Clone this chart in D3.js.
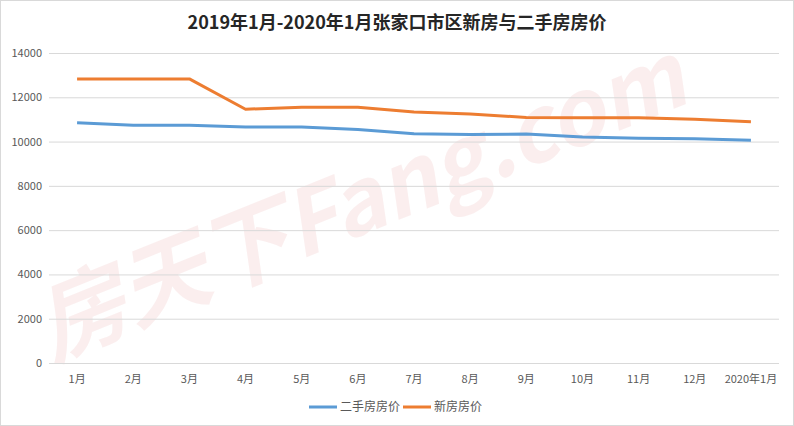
<!DOCTYPE html>
<html><head><meta charset="utf-8">
<script src="https://cdn.jsdelivr.net/npm/d3@7/dist/d3.min.js"></script>
<style>body{margin:0;background:#fff;}svg{display:block;}</style>
</head><body>
<svg id="c" width="794" height="426"></svg>
<script>
const categories = ["1月","2月","3月","4月","5月","6月","7月","8月","9月","10月","11月","12月","2020年1月"];
const secondHand = [10850,10740,10740,10660,10660,10540,10350,10320,10340,10210,10150,10130,10060];
const newHouse = [12830,12830,12830,11460,11550,11550,11340,11240,11090,11080,11080,11010,10890];
const yTicks = [0,2000,4000,6000,8000,10000,12000,14000];
const seriesNames = ["二手房房价","新房房价"];
const colors = ["#5B9BD5","#ED7D31"];

const svg = d3.select("#c");
const W = 794, H = 426;
const m = {left:49, right:15, top:53, bottom:63};
const font = "'Noto Sans CJK SC','Noto Sans',sans-serif";

svg.append("rect").attr("x",0.5).attr("y",0.5).attr("width",W-1).attr("height",H-1)
  .attr("fill","#fff").attr("stroke","#d9d9d9");

// watermark
svg.append("text").attr("transform","translate(52,360) rotate(-22)")
  .attr("font-family",font).attr("font-weight","bold").attr("font-style","italic").attr("font-size",90)
  .attr("textLength",690).attr("lengthAdjust","spacingAndGlyphs")
  .attr("fill","#f3c9c9").attr("opacity",0.3).text("房天下Fang.com");

const x = d3.scaleBand().domain(categories).range([m.left, W-m.right]);
const y = d3.scaleLinear().domain([0,14000]).range([H-m.bottom, m.top]);

// gridlines
svg.append("g").selectAll("line").data(yTicks).join("line")
  .attr("x1",m.left).attr("x2",W-m.right)
  .attr("y1",d=>y(d)+0.5).attr("y2",d=>y(d)+0.5)
  .attr("stroke","#d9d9d9").attr("stroke-width",1);

// y axis labels
const ya = svg.append("g").attr("transform",`translate(${m.left-7},0)`)
  .call(d3.axisLeft(y).tickValues(yTicks).tickSize(0).tickPadding(0).tickFormat(d3.format("d")));
ya.select(".domain").remove();
ya.selectAll("text").attr("font-family",font).attr("font-size",11).attr("fill","#595959");

// x axis labels
const xa = svg.append("g").attr("transform",`translate(0,${H-m.bottom})`)
  .call(d3.axisBottom(x).tickSize(0).tickPadding(12));
xa.select(".domain").remove();
xa.selectAll("text").attr("font-family",font).attr("font-size",11).attr("fill","#595959");

// lines
const line = d3.line().x((d,i)=>x(categories[i])+x.bandwidth()/2).y(d=>y(d));
[secondHand,newHouse].forEach((s,i)=>{
  svg.append("path").datum(s).attr("d",line).attr("fill","none")
    .attr("stroke",colors[i]).attr("stroke-width",3).attr("stroke-linejoin","round");
});

// title
svg.append("text").attr("x",397).attr("y",29).attr("text-anchor","middle")
  .attr("font-family",font).attr("font-weight","bold").attr("font-size",18)
  .attr("fill","#262626").text("2019年1月-2020年1月张家口市区新房与二手房房价");

// legend
const lg = svg.append("g");
const lx = [309, 403];
seriesNames.forEach((n,i)=>{
  lg.append("line").attr("x1",lx[i]).attr("x2",lx[i]+28).attr("y1",407).attr("y2",407)
    .attr("stroke",colors[i]).attr("stroke-width",3);
  lg.append("text").attr("x",lx[i]+31).attr("y",411).attr("font-family",font)
    .attr("font-size",12).attr("fill","#595959").text(n);
});
</script>
</body></html>
